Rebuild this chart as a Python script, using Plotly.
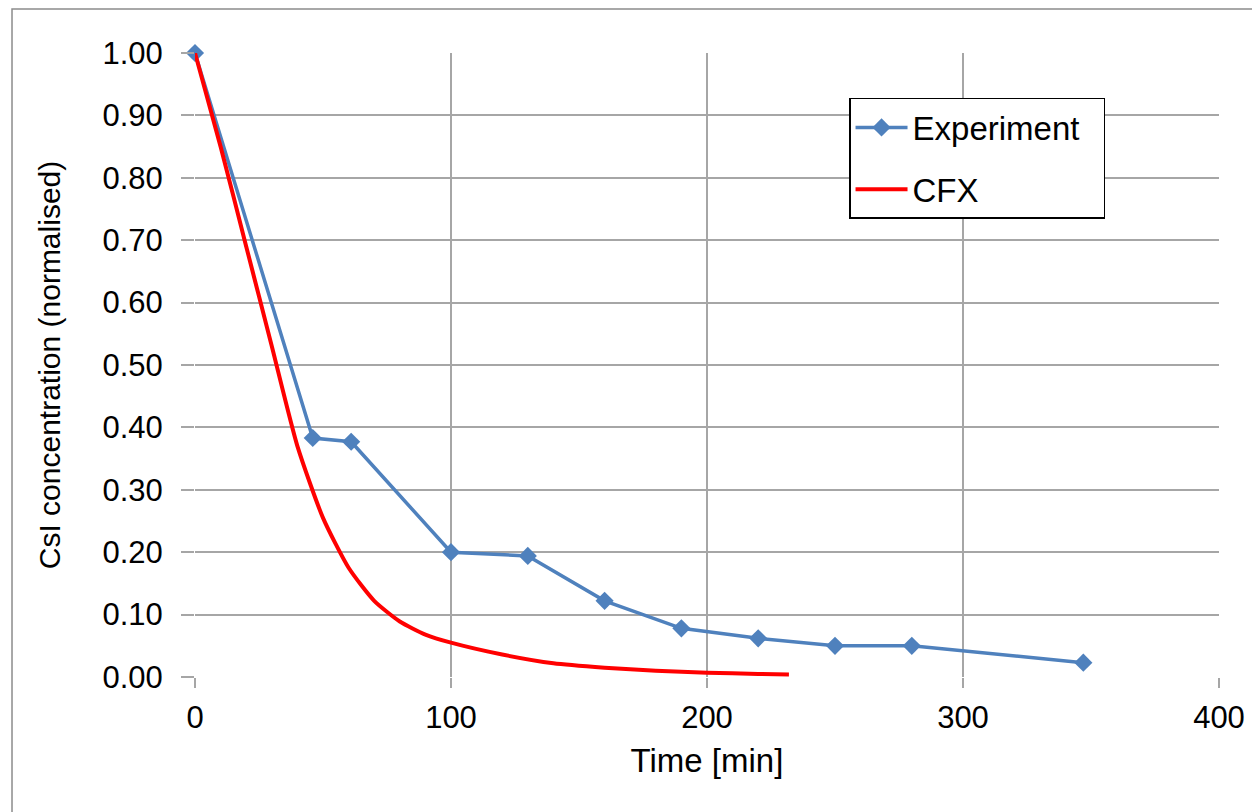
import plotly.graph_objects as go

# Experiment data
exp_time = [0, 46, 61, 100, 130, 160, 190, 220, 250, 280, 347]
exp_conc = [1.00, 0.383, 0.377, 0.200, 0.194, 0.122, 0.078, 0.062, 0.050, 0.050, 0.023]

# CFX simulation curve
cfx_time = [0, 10, 20, 30, 40, 50, 60, 70, 80, 90, 100, 120, 140, 160, 180, 200, 220, 232]
cfx_conc = [1.0, 0.85, 0.69, 0.53, 0.37, 0.255, 0.175, 0.122, 0.089, 0.068, 0.055,
            0.036, 0.022, 0.015, 0.010, 0.007, 0.005, 0.004]

x_ticks = [0, 100, 200, 300, 400]
y_ticks = [i / 10 for i in range(11)]

font_family = "Liberation Sans, Arial, sans-serif"
grid_color = "#a6a6a6"
pad = "\u00a0\u00a0"  # a bit of room on the right of the legend box

fig = go.Figure()

fig.add_trace(go.Scatter(
    x=exp_time, y=exp_conc,
    name="Experiment" + pad,
    legendgroup="exp",
    mode="lines+markers",
    line=dict(color="#4f81bd", width=3.5),
    marker=dict(symbol="diamond", size=14, color="#4f81bd"),
    cliponaxis=False,
))

fig.add_trace(go.Scatter(
    x=cfx_time, y=cfx_conc,
    name="CFX",
    legendgroup="cfx",
    mode="lines",
    line=dict(color="#ff0000", width=4, shape="spline", smoothing=0.6),
    cliponaxis=False,
))

# outer frame of the chart
fig.add_shape(type="rect", xref="paper", yref="paper",
              x0=-0.1787, x1=1.038, y0=-0.4, y1=1.0705,
              line=dict(color="#8c8c8c", width=1.5), layer="below")

fig.update_layout(
    width=1260, height=812,
    margin=dict(l=187, r=49, t=45, b=143),
    plot_bgcolor="white",
    paper_bgcolor="white",
    font=dict(family=font_family, size=31, color="black"),
    showlegend=True,
    legend=dict(
        x=0.6387, y=0.928, xanchor="left", yanchor="top",
        bgcolor="white", bordercolor="black", borderwidth=1.5,
        font=dict(size=33),
        traceorder="grouped",
        tracegroupgap=16,
        itemwidth=52,
    ),
    xaxis=dict(
        range=[0, 400], tickvals=x_ticks,
        showgrid=True, gridcolor=grid_color, gridwidth=2,
        zeroline=False, showline=False,
        ticks="outside", ticklen=10, tickcolor=grid_color, tickwidth=2,
        ticklabelstandoff=3,
        tickfont=dict(size=31),
        title=dict(text="Time [min]", font=dict(size=33), standoff=14),
    ),
    yaxis=dict(
        range=[0, 1.0], tickvals=y_ticks, tickformat=".2f",
        showgrid=True, gridcolor=grid_color, gridwidth=2,
        zeroline=False, showline=False,
        ticks="outside", ticklen=13, tickcolor=grid_color, tickwidth=2,
        ticklabelstandoff=12,
        tickfont=dict(size=31),
        title=dict(text="CsI concentration (normalised)", font=dict(size=30), standoff=32),
    ),
)

fig.write_html("out.html")
